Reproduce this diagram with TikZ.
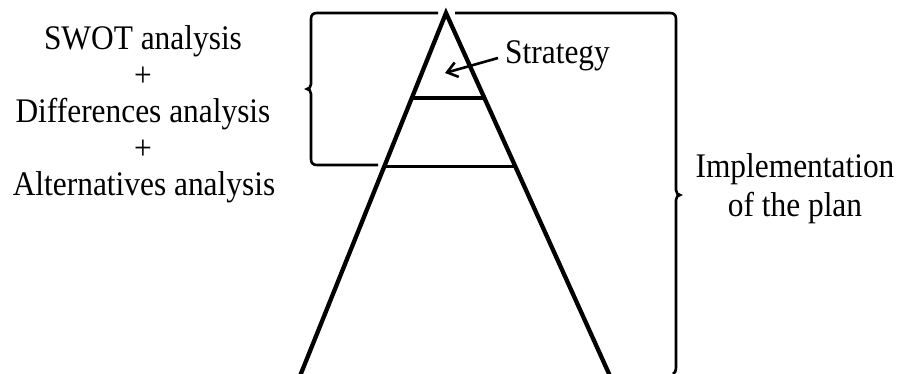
\documentclass[tikz,border=0pt]{standalone}
\usepackage{fontspec}
\setmainfont{Liberation Serif}[FakeStretch=0.91]
\usetikzlibrary{arrows.meta,calc}
\begin{document}
\begin{tikzpicture}[x=1pt,y=1pt,
  txt/.style={inner sep=0pt,font=\fontsize{34.5}{36.5}\selectfont},
  tri/.style={line width=4.3pt,line join=miter},
  bar/.style={line width=3.8pt},
  brace/.style={line width=2.6pt},
  pointer/.style={line width=2.6pt,-{Straight Barb[length=10pt,width=15pt,line width=2.6pt]}}]
\useasboundingbox (0,0) rectangle (900,374);
% triangle
\coordinate (apex) at (446,361);
\coordinate (bl) at (300,-2);
\coordinate (br) at (610,-2);
\draw[tri] (bl) -- (apex) -- (br);
\coordinate (b1l) at ($(apex)!0.2348!(bl)$);
\coordinate (b1r) at ($(apex)!0.2348!(br)$);
\coordinate (b2l) at ($(apex)!0.4227!(bl)$);
\coordinate (b2r) at ($(apex)!0.4227!(br)$);
\draw[bar] (b1l) -- (b1r);
\draw[bar] (b2l) -- (b2r);
% left brace
\draw[brace] (438,361) -- (317,361) .. controls (313,361) and (311,359) .. (311,355)
  -- (311,290) .. controls (311,287) and (309,285) .. (307,285)
  .. controls (309,285) and (311,283) .. (311,280)
  -- (311,215) .. controls (311,211) and (313,209) .. (317,209) -- (378,209);
% right brace
\draw[brace] (455,361) -- (670,361) .. controls (674,361) and (676,359) .. (676,355)
  -- (676,184) .. controls (676,181) and (678,179) .. (680,179)
  .. controls (678,179) and (676,177) .. (676,174)
  -- (676,6) .. controls (676,3) and (675,1) .. (673,0);
% texts
\node[txt,anchor=base] (swot) at (143,324) {SWOT analysis};
\node[txt,anchor=base] (plus1) at (143,287.5) {+};
\node[txt,anchor=base] (diff) at (143,251) {Differences analysis};
\node[txt,anchor=base] (plus2) at (143,214.5) {+};
\node[txt,anchor=base] (alt) at (144,178) {Alternatives analysis};
\node[txt,anchor=base west] (strat) at (505,310) {Strategy};
\node[txt,anchor=base] (impl) at (795,196) {Implementation};
\node[txt,anchor=base] (plan) at (795,157) {of the plan};
% arrow
\coordinate (tip) at (445,301);
\draw[pointer] ([xshift=-7pt,yshift=6pt]strat.base west) -- (tip);
\end{tikzpicture}
\end{document}
